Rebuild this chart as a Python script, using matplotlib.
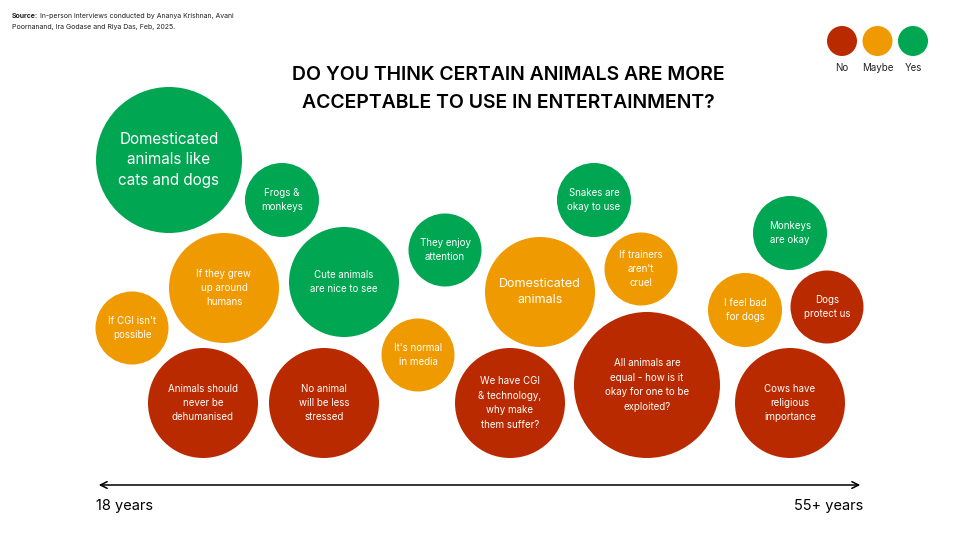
import matplotlib
matplotlib.use('Agg')
import matplotlib.pyplot as plt
from matplotlib.patches import Circle

plt.rcParams['font.family'] = ['Inter', 'DejaVu Sans']

# ---------------------------------------------------------
# Data: one bubble per response (answer, age position, row, size)
# ---------------------------------------------------------
responses = [
    "Domesticated\nanimals like\ncats and dogs",
    "Frogs &\nmonkeys",
    "If they grew\nup around\nhumans",
    "Cute animals\nare nice to see",
    "If CGI isn't\npossible",
    "Animals should\nnever be\ndehumanised",
    "No animal\nwill be less\nstressed",
    "It's normal\nin media",
    "They enjoy\nattention",
    "Domesticated\nanimals",
    "Snakes are\nokay to use",
    "If trainers\naren't\ncruel",
    "We have CGI\n& technology,\nwhy make\nthem suffer?",
    "All animals are\nequal - how is it\nokay for one to be\nexploited?",
    "Monkeys\nare okay",
    "I feel bad\nfor dogs",
    "Dogs\nprotect us",
    "Cows have\nreligious\nimportance",
]
answers = ["Yes", "Yes", "Maybe", "Yes", "Maybe", "No", "No", "Maybe", "Yes",
           "Maybe", "Yes", "Maybe", "No", "No", "Yes", "Maybe", "No", "No"]
age_x = [169, 282, 224, 344, 132, 203, 324, 418, 445,
         540, 594, 641, 510, 647, 790, 745, 827, 790]
row_y = [160, 200, 288, 282, 328, 403, 403, 355, 250,
         292, 200, 269, 403, 385, 233, 310, 307, 403]
bubble_r = [73, 37, 55, 55, 36.5, 55, 55, 36.5, 36.5,
            55, 37, 36.5, 55, 73, 37, 37, 36.5, 55]

legend_labels = ["No", "Maybe", "Yes"]
colors = {"No": "#BA2A00", "Maybe": "#EE9A00", "Yes": "#00A651"}

title = "DO YOU THINK CERTAIN ANIMALS ARE MORE\nACCEPTABLE TO USE IN ENTERTAINMENT?"
age_start, age_end = "18 years", "55+ years"
source_lines = ["In-person interviews conducted by Ananya Krishnan, Avani",
                "Poornanand, Ira Godase and Riya Das, Feb, 2025."]

# bigger headline text for a couple of bubbles
headline_size = {"Domesticated\nanimals like\ncats and dogs": 11,
                 "Domesticated\nanimals": 9}


def main():
    fig = plt.figure(figsize=(9.6, 5.4), dpi=100)
    ax = fig.add_axes([0, 0, 1, 1])
    ax.set_xlim(0, 960)
    ax.set_ylim(540, 0)
    ax.set_aspect('equal')
    ax.axis('off')

    # bubbles
    for lab, ans, x, y, r in zip(responses, answers, age_x, row_y, bubble_r):
        ax.add_patch(Circle((x, y), r, facecolor=colors[ans], edgecolor='none'))
        fs = headline_size.get(lab, 7)
        ax.text(x, y, lab, ha='center', va='center', color='white',
                fontsize=fs, linespacing=1.55 if fs < 10 else 1.45)

    # title
    ax.text(508, 89, title, ha='center', va='center', fontsize=14,
            fontweight='semibold', color='black', linespacing=1.65)

    # source
    src = ax.text(12, 16, "Source:", ha='left', va='center', fontsize=5,
                  fontweight='bold', color='#222222')
    ax.annotate(" " + source_lines[0], xy=(1, 0.5), xycoords=src,
                ha='left', va='center', fontsize=5, color='#222222')
    ax.text(12, 27, source_lines[1], ha='left', va='center', fontsize=5,
            color='#222222')

    # legend
    for i, lab in enumerate(legend_labels):
        lx = 842 + i * 35.5
        ax.add_patch(Circle((lx, 41), 15, facecolor=colors[lab], edgecolor='none'))
        ax.text(lx, 68, lab, ha='center', va='center', fontsize=7, color='#222222')

    # age axis
    ax.annotate('', xy=(863, 485), xytext=(96, 485),
                arrowprops=dict(arrowstyle='<->', color='black', lw=1.1,
                                mutation_scale=12))
    ax.text(96, 506, age_start, ha='left', va='center', fontsize=10.5, color='black')
    ax.text(863, 506, age_end, ha='right', va='center', fontsize=10.5, color='black')

    fig.savefig('out.png', dpi=100, facecolor='white')
    plt.close(fig)


if __name__ == "__main__":
    main()
